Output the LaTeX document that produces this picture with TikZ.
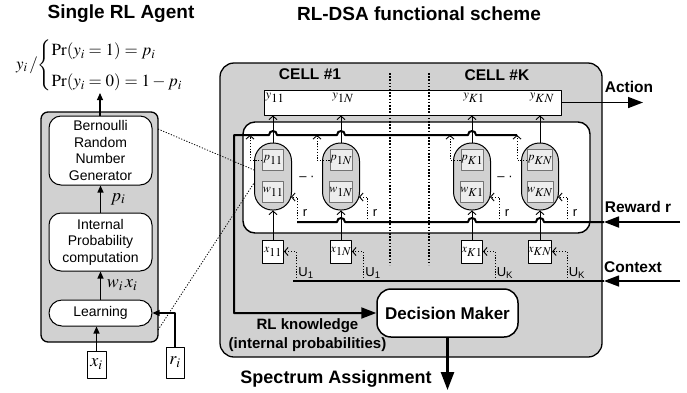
\documentclass[tikz,border=0pt]{standalone}
\usepackage{mathptmx}
\usepackage[no-math]{fontspec}
\setmainfont{Liberation Sans}
\usetikzlibrary{arrows.meta}
\definecolor{panelgrey}{gray}{0.82}
\definecolor{regfill}{gray}{0.93}
\definecolor{regline}{gray}{0.45}
% variable with a full-size subscript, as used inside the cells
\newcommand{\subv}[2]{$#1_{\textstyle #2}$}
\begin{document}
\begin{tikzpicture}[x=1pt, y=-1pt, line join=round,
  panel/.style={draw, line width=1.3pt, fill=panelgrey, inner sep=0pt},
  agentblk/.style={draw, line width=1pt, fill=white, rounded corners=12pt, align=center,
    inner sep=0pt, minimum width=103pt, font=\fontsize{14}{16.5}\selectfont},
  capsule/.style={draw, line width=1pt, fill=panelgrey, rounded corners=18pt,
    minimum width=37pt, minimum height=67pt, inner sep=0pt},
  regsq/.style={draw=regline, line width=0.8pt, fill=regfill, minimum width=21pt,
    minimum height=21pt, inner sep=0pt, font=\fontsize{12}{13}\selectfont},
  inbox/.style={draw, line width=0.9pt, fill=white, minimum width=21pt, minimum height=23pt,
    inner sep=0pt, font=\fontsize{12}{13}\selectfont},
  fa/.style={-{Triangle[length=7pt,width=6pt]}, line width=1.1pt},
  oarr/.style={-{Straight Barb[length=3.5pt,width=8pt,line width=0.9pt]}, line width=0.9pt},
  dotarr/.style={oarr, dash pattern=on 1.2pt off 1.6pt},
  zoomline/.style={line width=0.8pt, dash pattern=on 1.2pt off 1.6pt},
  bus/.style={line width=2pt},
  bigarr/.style={-{Triangle[length=15pt,width=11pt]}, line width=1.8pt},
  hdr/.style={font=\bfseries\fontsize{19}{22}\selectfont},
  sidelbl/.style={font=\bfseries\fontsize{15.5}{18}\selectfont},
  smalllbl/.style={font=\fontsize{13}{15}\selectfont, inner sep=0pt},
  mathlbl/.style={font=\fontsize{18}{20}\selectfont, inner sep=0pt},
  ylbl/.style={font=\fontsize{12.5}{13}\selectfont, inner sep=0pt},
  sepline/.style={line width=1.4pt, dash pattern=on 1.6pt off 1.6pt},
]
\useasboundingbox (0,0) rectangle (687,392);

% ---------- titles ----------
\node[hdr] (t1) at (121,14) {Single RL Agent};
\node[hdr] (t2) at (419,14) {RL-DSA functional scheme};

% ---------- single agent ----------
\node[font=\fontsize{17}{20}\selectfont, inner sep=0pt] (fml) at (99.5,65)
  {$\delimiterfactor=700 \delimitershortfall=20pt
   y_i\,/\!\left\{\renewcommand{\arraystretch}{1.55}\begin{array}{@{}l@{}}\Pr(y_i=1)=p_i\\\Pr(y_i=0)=1-p_i\end{array}\right.$};
\coordinate (fmltip) at (100,93);

\node[panel, rounded corners=7pt, minimum width=117pt, minimum height=230pt] (agent) at (99.5,227) {};
\node[agentblk, minimum height=69pt] (bern) at (100.5,150.5) {Bernoulli\\Random\\Number\\Generator};
\node[agentblk, minimum height=58pt] (ipc) at (100.5,242) {Internal\\Probability\\computation};
\node[agentblk, minimum height=26pt, rounded corners=13pt] (learn) at (100.5,313) {Learning};
\node[inbox, minimum width=19pt, minimum height=27pt, font=\fontsize{18}{20}\selectfont] (xi) at (96.5,364.5) {$x_i$};
\node[inbox, minimum width=18pt, minimum height=31pt, font=\fontsize{18}{20}\selectfont] (ri) at (175,362.5) {$r_i$};

\draw[fa] (fmltip |- bern.north) -- (fmltip);
\draw[fa] (ipc.north) -- (bern.south);
\draw[fa] (learn.north) -- (ipc.south);
\draw[fa] (xi.north) -- (xi.north |- learn.south);
\draw[fa] (ri.north) |- (learn.east);
\node[mathlbl] (plab) at (118,199) {$p_i$};
\node[mathlbl] (wxlab) at (122,285) {$w_i\,x_i$};

% ---------- RL-DSA scheme ----------
\node[panel, rounded corners=14pt, minimum width=382pt, minimum height=294pt] (dsa) at (411,210) {};
\node[draw, line width=1pt, fill=white, minimum width=297pt, minimum height=25pt, inner sep=0pt] (yb) at (412.5,102.5) {};
\node[draw, line width=1.4pt, fill=white, rounded corners=12pt, minimum width=347pt,
  minimum height=111pt, inner sep=0pt] (lbox) at (416.5,177.5) {};

% zoom lines from the agent to the first automaton
\coordinate (zA1) at (158,129);
\coordinate (zA2) at (254,170);
\coordinate (zB1) at (158,330);
\coordinate (zB2) at (254,183);
\draw[zoomline] (zA1) -- (zA2);
\draw[zoomline] (zB1) -- (zB2);

\node[draw, line width=1.5pt, fill=white, rounded corners=14pt, minimum width=141pt,
  minimum height=48pt, inner sep=0pt, font=\bfseries\fontsize{17}{20}\selectfont] (dm) at (447.5,313) {Decision Maker};

% knowledge bus: collects the internal probabilities
\coordinate (kbr) at (517,135);
\coordinate (kbl) at (234,135);
\draw[bus, -{Triangle[length=15pt,width=11pt]}] (kbr) -- (476,135)
  .. controls (476,129.7) and (468,129.7) .. (468,135) -- (345,135)
  .. controls (345,129.7) and (337,129.7) .. (337,135) -- (277,135)
  .. controls (277,129.7) and (269,129.7) .. (269,135) -- (kbl) |- (dm.west);

% reward bus
\coordinate (rwin) at (680,222);
\coordinate (rwtip) at (604,222);
\coordinate (rt11) at (297,222);
\draw[bigarr] (rwin) -- (rwtip);
\draw[bus] (rwtip) -- (544,222)
  .. controls (544,216.7) and (536,216.7) .. (536,222) -- (476,222)
  .. controls (476,216.7) and (468,216.7) .. (468,222) -- (345,222)
  .. controls (345,216.7) and (337,216.7) .. (337,222) -- (rt11);

% context line
\coordinate (uin) at (680,281);
\coordinate (utip) at (604,281);
\coordinate (ul) at (293,281);
\draw[bigarr, line width=1.4pt] (uin) -- (utip);
\draw[line width=1.3pt] (utip) -- (ul);

% action output and spectrum assignment
\coordinate (actend) at (643,102.5);
\draw[bigarr, line width=1.6pt] (yb.east) -- (actend);
\coordinate (specend) at (447.5,390);
\draw[line width=2.5pt, -{Triangle[length=18pt,width=13pt]}] (dm.south) -- (specend);

% learning automata of the cells
\foreach \c/\cx in {11/273, 1N/341, K1/472, KN/540} {
  \node[capsule] (c\c) at (\cx,176.5) {};
  \node[regsq] (p\c) at (\cx,160) {\subv{p}{\c}};
  \node[regsq] (w\c) at (\cx,192) {\subv{w}{\c}};
  \node[inbox] (x\c) at (\cx,251.5) {\subv{x}{\c}};
  \node[ylbl] (ly\c) at (\cx+2,98) {\subv{y}{\c}};
  \draw[oarr] (c\c.north) -- (c\c.north |- yb.south);
  \draw[oarr] (x\c.north) -- (x\c.north |- c\c.south);
}

% taps: probabilities to the bus, rewards and contexts to the automata
\foreach \c/\kx/\rx/\ux/\cx/\ul in {11/250/297/296/273/1, 1N/317/367/363/341/1, K1/450/499/495/472/K, KN/517/567/567/540/K} {
  \coordinate (kt\c) at (\kx,135);
  \coordinate (rb\c) at (\rx,222);
  \coordinate (re\c) at (\cx+18,197);
  \coordinate (ut\c) at (\ux,281);
  \draw[dotarr] (p\c.west) -| (kt\c);
  \draw[dotarr] (rb\c) |- (re\c);
  \draw[dotarr] (ut\c) |- (x\c.east);
  \node[smalllbl] (rl\c) at (\rx+8,213) {r};
  \node[smalllbl] (ulb\c) at (\ux+10,273) {U\textsubscript{\ul}};
}

% separators between cells
\coordinate (s1a) at (390,73);
\coordinate (s1b) at (390,265);
\coordinate (s2a) at (429,73);
\coordinate (s2b) at (429,265);
\draw[sepline] (s1a) -- (s1b);
\draw[sepline] (s2a) -- (s2b);

\node[smalllbl] (gap1) at (307,178) {– ·};
\node[smalllbl] (gap2) at (505,178) {– ·};

% labels
\node[sidelbl] (cell1) at (310,74) {CELL \#1};
\node[sidelbl] (cellk) at (497,75) {CELL \#K};
\node[sidelbl] (lact) at (629,87) {Action};
\node[sidelbl] (lrew) at (638,207) {Reward r};
\node[sidelbl] (lctx) at (633,267) {Context};
\node[sidelbl, align=center, font=\bfseries\fontsize{15}{19}\selectfont] (lkn) at (307.5,335.5) {RL knowledge\\(internal probabilities)};
\node[font=\bfseries\fontsize{18}{21}\selectfont] (lspec) at (336,379) {Spectrum Assignment};
\end{tikzpicture}
\end{document}
